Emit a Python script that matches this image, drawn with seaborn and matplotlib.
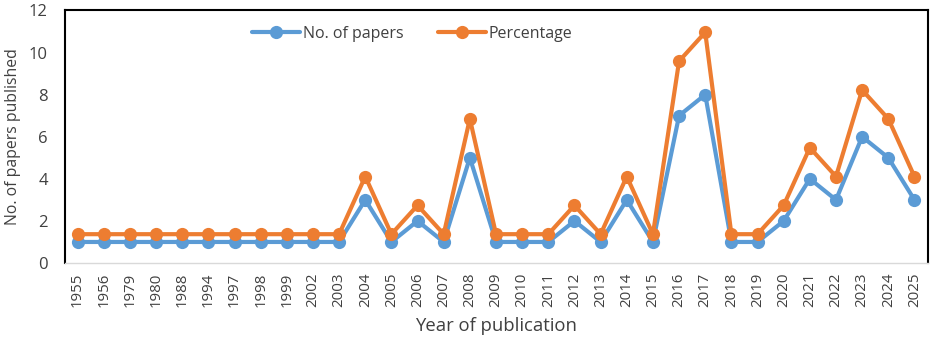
import matplotlib
matplotlib.use("Agg")
import matplotlib.pyplot as plt
import seaborn as sns
import pandas as pd

years = ["1955", "1956", "1979", "1980", "1988", "1994", "1997", "1998", "1999", "2002",
         "2003", "2004", "2005", "2006", "2007", "2008", "2009", "2010", "2011", "2012",
         "2013", "2014", "2015", "2016", "2017", "2018", "2019", "2020", "2021", "2022",
         "2023", "2024", "2025"]
papers = [1, 1, 1, 1, 1, 1, 1, 1, 1, 1,
          1, 3, 1, 2, 1, 5, 1, 1, 1, 2,
          1, 3, 1, 7, 8, 1, 1, 2, 4, 3,
          6, 5, 3]
percentage = [1.37, 1.37, 1.37, 1.37, 1.37, 1.37, 1.37, 1.37, 1.37, 1.37,
              1.37, 4.11, 1.37, 2.74, 1.37, 6.85, 1.37, 1.37, 1.37, 2.74,
              1.37, 4.11, 1.37, 9.59, 10.96, 1.37, 1.37, 2.74, 5.48, 4.11,
              8.22, 6.85, 4.11]
series_names = ["No. of papers", "Percentage"]

df = pd.DataFrame({
    "Year": years * 2,
    "Value": papers + percentage,
    "Series": [series_names[0]] * len(years) + [series_names[1]] * len(years),
})

sns.set_style("white")
plt.rcParams["font.family"] = ["Open Sans", "DejaVu Sans"]
text_col = "#404040"

fig, ax = plt.subplots(figsize=(9.35, 3.47), dpi=100)
fig.subplots_adjust(left=0.069, right=0.992, top=0.97, bottom=0.242)

sns.lineplot(data=df, x="Year", y="Value", hue="Series", sort=False,
             palette={"No. of papers": "#5B9BD5", "Percentage": "#ED7D31"},
             marker="o", markersize=9.5, markeredgewidth=0, linewidth=3.0,
             ax=ax)

ax.set_xlim(-0.5, len(years) - 0.5)
ax.set_ylim(0, 12)
ax.set_yticks(range(0, 13, 2))
ax.tick_params(axis="x", rotation=90, labelsize=10.8, colors=text_col, length=0, pad=7)
ax.tick_params(axis="y", labelsize=12, colors=text_col, length=0, pad=12)
ax.set_xlabel("Year of publication", fontsize=13.3, color=text_col, labelpad=7)
ax.set_ylabel("No. of papers published", fontsize=11.3, color=text_col, labelpad=6)

for side in ["top", "left", "right"]:
    ax.spines[side].set_color("black")
    ax.spines[side].set_linewidth(1.5)
    ax.spines[side].set_visible(True)
ax.spines["bottom"].set_color("#D9D9D9")
ax.spines["bottom"].set_linewidth(1.0)

leg = ax.legend(loc="upper center", bbox_to_anchor=(0.403, 0.995), ncol=2, frameon=False,
                fontsize=11.5, handlelength=3.0, columnspacing=2.2, handletextpad=0.15)
for t in leg.get_texts():
    t.set_color(text_col)

fig.savefig("out.png", dpi=100)
